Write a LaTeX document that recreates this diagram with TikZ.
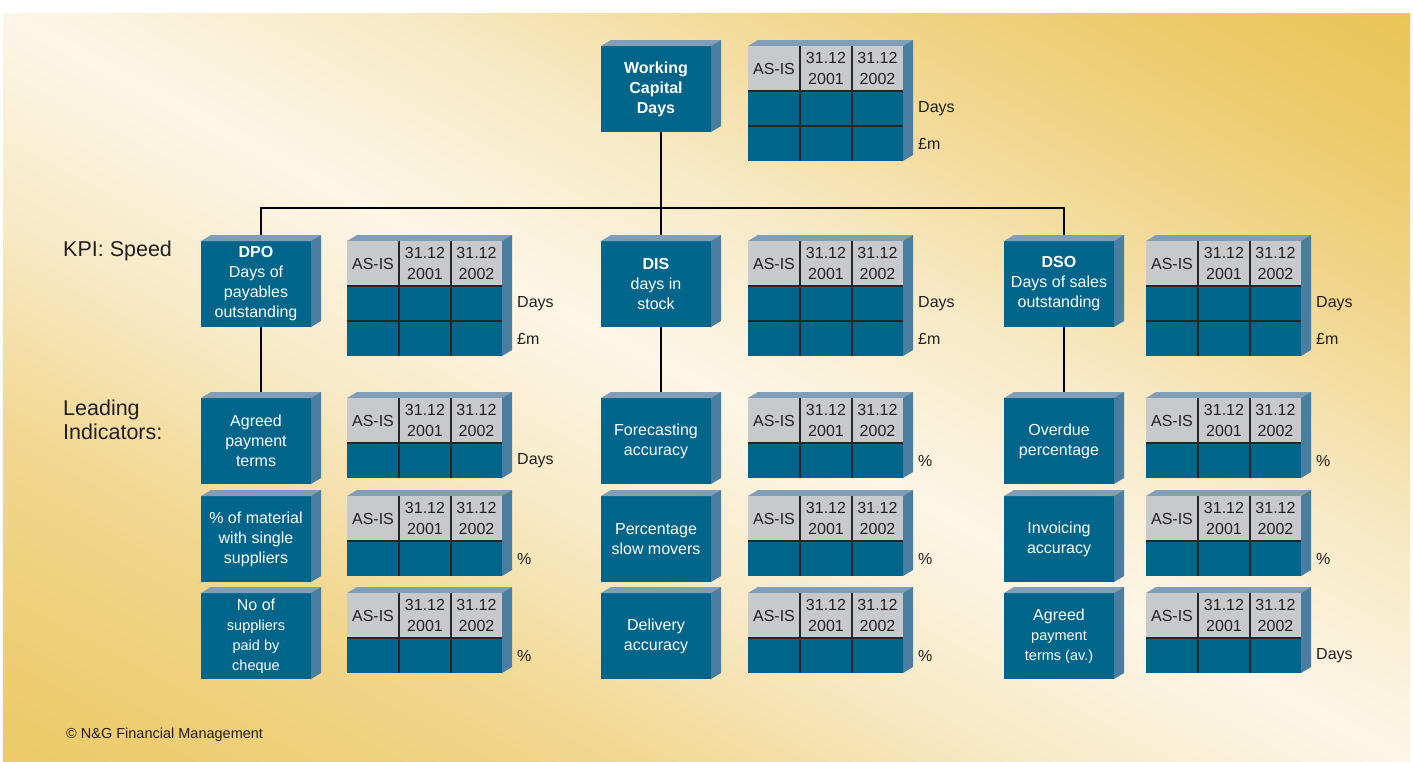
\documentclass[tikz,border=0pt]{standalone}
\usepackage{fontspec}
\setmainfont{Liberation Sans}
\usepackage{tikz}
\usetikzlibrary{positioning, calc}
\usepackage{xcolor}
\definecolor{tealfront}{RGB}{0, 101, 138}
\definecolor{tealside}{RGB}{74, 126, 160}
\definecolor{tealtop}{RGB}{128, 158, 184}
\definecolor{cellgrey}{RGB}{200, 201, 204}
\definecolor{inkgrey}{RGB}{35, 31, 32}
\definecolor{goldA}{RGB}{233, 194, 80}
\definecolor{goldB}{RGB}{237, 202, 104}
\definecolor{goldC}{RGB}{241, 215, 143}
\definecolor{goldD}{RGB}{248, 234, 200}
\definecolor{goldE}{RGB}{252, 246, 230}
\pgfdeclareverticalshading{goldband}{100bp}{color(0bp)=(goldA); color(17bp)=(goldB);
  color(31bp)=(goldC); color(41bp)=(goldD); color(50bp)=(goldE); color(59bp)=(goldD);
  color(69bp)=(goldC); color(78bp)=(goldB); color(86bp)=(goldA); color(100bp)=(goldA)}
\newcommand{\boxfont}{\fontsize{16}{20}\selectfont}
\newcommand{\smallbox}{\fontsize{14.5}{19}\selectfont}

% 3-d box: name, x, y, height, text
\newcommand{\tealbox}[5]{%
  \node[boxfront, minimum height=#4pt] (#1) at (#2,#3) {#5};
  \fill[tealtop] (#1.north west) -- ++(10,-6) -- ++(110,0) -- (#1.north east) -- cycle;
  \fill[tealside] (#1.north east) -- ++(10,-6) -- ++(0,#4) -- (#1.south east) -- cycle;
}
% 3-d table: name, x, y, unit of row 1, unit of row 2 (empty: one row)
\newcommand{\kpitable}[5]{%
  \begin{scope}[shift={(#2,#3)}]
    \if\relax\detokenize{#5}\relax\def\kpitabh{80}\else\def\kpitabh{115}\fi
    \fill[tealtop] (0,0) -- ++(10,-6) -- ++(155,0) -- (155,0) -- cycle;
    \fill[tealside] (155,0) -- ++(10,-6) -- ++(0,\kpitabh) -- (155,\kpitabh) -- cycle;
    \node[tabfront, minimum height=\kpitabh pt] (#1) at (0,0) {};
    \fill[cellgrey] (0,0) rectangle (155,45);
    \draw[gridline] (0,45) -- (155,45) (52,0) -- (52,\kpitabh) (104,0) -- (104,\kpitabh);
    \node[headtext] (#1-asis) at (26,22.5) {AS-IS};
    \node[headtext] (#1-y1) at (78,22.5) {31.12\\2001};
    \node[headtext] (#1-y2) at (129.5,22.5) {31.12\\2002};
    \node[unittext] (#1-u1) at (170,62.5) {#4};
    \if\relax\detokenize{#5}\relax\else
      \draw[gridline] (0,80) -- (155,80);
      \node[unittext] (#1-u2) at (170,97.5) {#5};
    \fi
  \end{scope}
}

\begin{document}
\begin{tikzpicture}[x=1pt, y=-1pt,
    boxfront/.style={fill=tealfront, anchor=north west, minimum width=110pt,
      inner sep=0pt, outer sep=0pt, text=white, align=center, font=\boxfont},
    tabfront/.style={fill=tealfront, anchor=north west, minimum width=155pt,
      inner sep=0pt, outer sep=0pt},
    gridline/.style={black!85, line width=1.3pt},
    headtext/.style={text=inkgrey, align=center, inner sep=0pt,
      font=\fontsize{16}{20.5}\selectfont},
    unittext/.style={text=inkgrey, anchor=west, inner sep=0pt, font=\boxfont},
    sidelabel/.style={text=inkgrey, anchor=west, align=left, inner sep=0pt,
      font=\fontsize{21.5}{24.5}\selectfont},
    link/.style={black, line width=1.8pt}]

  %--- background ---
  \useasboundingbox (0,0) rectangle (1413,761);
  \fill[white] (0,0) rectangle (1413,761);
  \shade[shading=goldband, shading angle=-28] (3,13) rectangle (1410,761);

  %--- top: working capital days ---
  \tealbox{wcd}{601}{46}{86}{\textbf{Working}\\\textbf{Capital}\\\textbf{Days}}
  \kpitable{wcdtab}{748}{46}{Days}{£m}

  %--- KPI row ---
  \node[sidelabel] (kpi) at (63,251) {KPI: Speed};
  \tealbox{dpo}{201}{241}{86}{\textbf{DPO}\\Days of\\payables\\outstanding}
  \kpitable{dpotab}{347}{241}{Days}{£m}
  \tealbox{dis}{601}{241}{86}{\textbf{DIS}\\days in\\stock}
  \kpitable{distab}{748}{241}{Days}{£m}
  \tealbox{dso}{1004}{241}{86}{\textbf{DSO}\\Days of sales\\outstanding}
  \kpitable{dsotab}{1146}{241}{Days}{£m}

  %--- leading indicators ---
  \node[sidelabel] (lead) at (63,420) {Leading\\Indicators:};
  \tealbox{apt}{201}{398}{86}{Agreed\\payment\\terms}
  \kpitable{apttab}{347}{398}{Days}{}
  \tealbox{mat}{201}{496}{86}{\% of material\\with single\\suppliers}
  \kpitable{mattab}{347}{496}{\%}{}
  \tealbox{chq}{201}{593}{86}{No of\\{\smallbox suppliers}\\{\smallbox paid by}\\{\smallbox cheque}}
  \kpitable{chqtab}{347}{593}{\%}{}

  \tealbox{fca}{601}{398}{86}{Forecasting\\accuracy}
  \kpitable{fcatab}{748}{398}{\%}{}
  \tealbox{slow}{601}{496}{86}{Percentage\\slow movers}
  \kpitable{slowtab}{748}{496}{\%}{}
  \tealbox{dlv}{601}{593}{86}{Delivery\\accuracy}
  \kpitable{dlvtab}{748}{593}{\%}{}

  \tealbox{ovd}{1004}{398}{86}{Overdue\\percentage}
  \kpitable{ovdtab}{1146}{398}{\%}{}
  \tealbox{inv}{1004}{496}{86}{Invoicing\\accuracy}
  \kpitable{invtab}{1146}{496}{\%}{}
  \tealbox{aptav}{1004}{593}{86}{Agreed\\{\smallbox payment}\\{\smallbox terms (av.)}}
  \kpitable{aptavtab}{1146}{593}{Days}{}

  %--- connectors ---
  \coordinate (bus) at (661,208);
  \draw[link] ([xshift=5pt]wcd.south) -- ([xshift=5pt,yshift=6pt]dis.north);
  \draw[link] ([xshift=5pt,yshift=6pt]dpo.north) |- (bus)
    -| ([xshift=5pt,yshift=6pt]dso.north);
  \draw[link] ([xshift=5pt]dpo.south) -- ([xshift=5pt,yshift=6pt]apt.north);
  \draw[link] ([xshift=5pt]dis.south) -- ([xshift=5pt,yshift=6pt]fca.north);
  \draw[link] ([xshift=5pt]dso.south) -- ([xshift=5pt,yshift=6pt]ovd.north);

  %--- source ---
  \node[text=inkgrey, anchor=west, inner sep=0pt,
        font=\fontsize{14.5}{17}\selectfont] (src) at (66,735)
    {© N\&G Financial Management};
\end{tikzpicture}
\end{document}
